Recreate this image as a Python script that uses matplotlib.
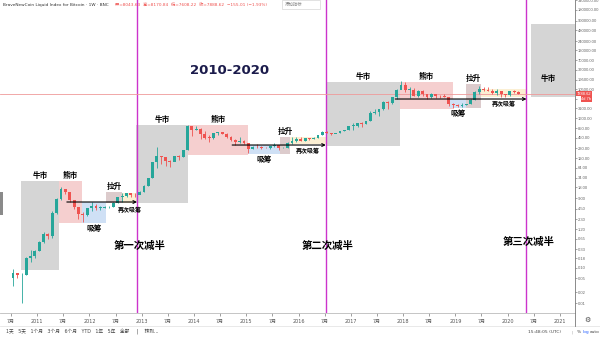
import numpy as np
import pandas as pd
import matplotlib
matplotlib.use('Agg')
import matplotlib.pyplot as plt
import matplotlib.dates as mdates
import matplotlib.transforms as mtrans
from matplotlib.patches import Rectangle
from matplotlib.ticker import FixedLocator, NullLocator

plt.rcParams['font.family'] = ['DejaVu Sans', 'Noto Sans CJK SC']

# monthly candles, Jul 2010 - Mar 2020
months = pd.date_range('2010-07-01', '2020-03-01', freq='MS')
first_open = 0.05
close = [0.07, 0.06, 0.062, 0.19, 0.21, 0.30,
         0.52, 0.86, 0.78, 3.5, 8.5, 16.1, 13.4, 8.2, 5.1, 3.2, 3.0, 4.7,
         5.5, 4.9, 4.9, 5.0, 5.2, 6.7, 9.4, 10.2, 12.4, 11.2, 10.8, 13.5,
         20.4, 33.4, 93, 139, 129, 97, 95, 135, 133, 198, 1000, 740,
         800, 570, 450, 445, 630, 640, 585, 480, 385, 340, 375, 320,
         218, 255, 244, 236, 230, 263, 284, 230, 236, 312, 377, 430,
         370, 437, 416, 448, 531, 640, 624, 573, 608, 700, 745, 963,
         970, 1190, 1080, 1350, 2300, 2480, 2875, 4700, 4340, 6470, 9950, 13800,
         10200, 10300, 6900, 9200, 7500, 6400, 7700, 7000, 6600, 6300, 4000, 3700,
         3450, 3800, 4100, 5300, 8550, 10800, 10100, 9600, 8300, 9150, 7550, 7200,
         9350, 8600, 7888.62]
high = [0.09, 0.07, 0.07, 0.20, 0.32, 0.32,
        0.55, 1.0, 0.95, 3.8, 9.0, 18.5, 16.5, 13.5, 8.2, 5.2, 3.6, 4.8,
        6.8, 6.3, 5.4, 5.4, 5.3, 6.8, 9.7, 12.5, 12.9, 12.9, 12.8, 13.9,
        21, 34, 95, 245, 135, 130, 110, 140, 145, 210, 1030, 950,
        950, 850, 700, 540, 630, 670, 650, 600, 500, 410, 460, 385,
        320, 265, 300, 260, 247, 268, 318, 285, 245, 335, 470, 465,
        460, 440, 440, 470, 550, 700, 690, 630, 615, 715, 755, 980,
        1150, 1200, 1290, 1350, 2500, 2900, 2920, 4750, 4950, 6200, 11000, 18000,
        16500, 11800, 11700, 9800, 10000, 7800, 8500, 7700, 7400, 7500, 6500, 4200,
        4100, 4200, 4100, 5600, 9100, 12800, 12500, 12000, 10900, 10500, 9500, 7750,
        9550, 10300, 9150]
low = [0.03, 0.05, 0.01, 0.06, 0.14, 0.18,
       0.29, 0.50, 0.62, 0.70, 3.2, 8.0, 12.0, 7.0, 4.5, 2.3, 1.9, 2.8,
       4.0, 4.3, 4.3, 4.7, 4.9, 5.2, 6.5, 7.2, 9.8, 10.0, 9.8, 12.3,
       13.3, 19.5, 33, 65, 80, 72, 68, 100, 110, 130, 200, 520,
       750, 430, 430, 340, 425, 530, 565, 440, 360, 275, 325, 310,
       170, 213, 240, 218, 230, 222, 255, 199, 228, 235, 310, 350,
       360, 370, 400, 415, 440, 530, 600, 535, 600, 610, 690, 740,
       750, 920, 900, 1080, 1350, 2100, 1850, 2700, 3000, 4150, 5500, 10800,
       9000, 6000, 6600, 6500, 7000, 5750, 6100, 5900, 6100, 6200, 3500, 3150,
       3350, 3400, 3700, 4100, 5300, 7500, 9100, 9350, 7750, 7300, 6500, 6500,
       6900, 8450, 7608]

# phase boxes: label, start, end, low, high, kind, label position
zones = [
    ('牛市', '2010-09-09', '2011-06-03', 0.085, 27, 'bull', 'above'),
    ('熊市', '2011-06-03', '2011-11-10', 1.8, 27, 'bear', 'above'),
    ('吸筹', '2011-11-10', '2012-04-27', 1.8, 7.0, 'acc', 'below'),
    ('拉升', '2012-04-27', '2012-08-18', 6.6, 13.4, 'pump', 'above'),
    ('再次吸筹', '2012-08-18', '2012-11-28', 6.6, 12.6, 'reacc', 'below2'),
    ('牛市', '2012-11-21', '2013-11-21', 6.6, 1033, 'bull', 'above'),
    ('熊市', '2013-11-21', '2015-01-11', 148, 1033, 'bear', 'above'),
    ('吸筹', '2015-01-11', '2015-08-25', 157, 282, 'acc', 'below'),
    ('拉升', '2015-08-25', '2015-11-03', 157, 474, 'pump', 'above'),
    ('再次吸筹', '2015-11-03', '2016-07-09', 301, 474, 'reacc', 'below2'),
    ('牛市', '2016-07-16', '2017-12-09', 265, 16800, 'bull', 'above'),
    ('熊市', '2017-12-09', '2018-12-13', 2915, 16800, 'bear', 'above'),
    ('吸筹', '2018-11-17', '2019-03-21', 3112, 5575, 'acc', 'below'),
    ('拉升', '2019-03-14', '2019-06-28', 3112, 14760, 'pump', 'above'),
    ('再次吸筹', '2019-06-28', '2020-05-11', 6350, 10670, 'reacc', 'below2'),
    ('牛市', '2020-06-14', '2021-05-01', 6350, 723000, 'bull', 'inside'),
]
arrows = [('2011-07-27', '2012-11-28', 7.0),
          ('2014-09-24', '2016-07-09', 282),
          ('2017-11-06', '2020-05-11', 5575)]
halvings = ['2012-11-28', '2016-07-09', '2020-05-11']
halving_labels = ['第一次减半', '第二次减半', '第三次减半']
halving_label_price = [0.40, 0.40, 0.52]
last_price = 7888.62

ytick_vals = [3400000, 1800000, 900000, 480000, 240000, 130000, 70000, 37000,
              19500, 10500, 5600, 3100, 1600, 850, 450, 230, 120, 64, 34, 18,
              9, 4.5, 2.3, 1.2, 0.65, 0.33, 0.18, 0.10, 0.05, 0.02, 0.01]

zone_colors = {'bull': '#d5d5d5', 'bear': '#f5cfcf', 'acc': '#cfe0f5',
               'pump': '#dccbcc', 'reacc': '#fbefd3'}
up_col, down_col = '#26a69a', '#ef5350'

fig = plt.figure(figsize=(6, 3.37), dpi=100)
ax = fig.add_axes([0, 1 - 313 / 337, 575 / 600, 313 / 337])
ax.set_yscale('log')
ax.set_ylim(0.00523, 3.43e6)
ax.set_xlim(mdates.date2num(pd.Timestamp('2010-04-16')),
            mdates.date2num(pd.Timestamp('2021-04-15')))

# boxes
for lab, s, e, lo, hi, kind, pos in zones:
    x0 = mdates.date2num(pd.Timestamp(s))
    x1 = mdates.date2num(pd.Timestamp(e))
    ax.add_patch(Rectangle((x0, lo), x1 - x0, hi - lo, facecolor=zone_colors[kind],
                           edgecolor='none', zorder=1))
    xc = (x0 + x1) / 2
    if pos == 'above':
        ax.annotate(lab, (xc, hi), xytext=(0, 0.5), textcoords='offset points',
                    ha='center', va='bottom', fontsize=5.5, fontweight='bold', zorder=5)
    elif pos == 'below':
        ax.annotate(lab, (xc, lo), xytext=(0, -1), textcoords='offset points',
                    ha='center', va='top', fontsize=5.5, fontweight='bold', zorder=5)
    elif pos == 'below2':
        ax.annotate(lab, (xc, lo), xytext=(0, -3), textcoords='offset points',
                    ha='center', va='top', fontsize=4.3, fontweight='bold', zorder=5)
    else:
        ax.annotate(lab, (x0, lo), xytext=(7, 10), textcoords='offset points',
                    ha='left', va='bottom', fontsize=5.5, fontweight='bold', zorder=5)

# candles
x = mdates.date2num(months) + 15
o = np.array([first_open] + close[:-1])
c = np.array(close)
h = np.array(high)
l = np.array(low)
cols = np.where(c >= o, up_col, down_col)
ax.vlines(x, l, h, colors=cols, lw=0.6, zorder=3)
bot = np.minimum(o, c)
top = np.maximum(o, c)
top = np.maximum(top, bot * 1.04)
ax.bar(x, top - bot, bottom=bot, width=20, color=cols, zorder=3, linewidth=0)

# arrows
for s, e, p in arrows:
    ax.annotate('', xy=(mdates.date2num(pd.Timestamp(e)), p),
                xytext=(mdates.date2num(pd.Timestamp(s)), p),
                arrowprops=dict(arrowstyle='->', color='black', lw=0.8,
                                shrinkA=0, shrinkB=0, mutation_scale=5), zorder=4)

# halving lines
for d, lab, p in zip(halvings, halving_labels, halving_label_price):
    xd = mdates.date2num(pd.Timestamp(d))
    ax.axvline(xd, color='#cc33cc', lw=1.0, zorder=2)
    ax.text(xd + 15, p, lab, ha='center', va='center', fontsize=7.5,
            fontweight='bold', zorder=5)

ax.text(mdates.date2num(pd.Timestamp('2014-09-08')), 36600, '2010-2020',
        ha='center', va='center', fontsize=9.5, fontweight='bold', color='#1b1b4b')

ax.axhline(last_price, color='#ef9a9a', lw=0.6, zorder=2)

# axes styling
for sp in ['top', 'left']:
    ax.spines[sp].set_visible(False)
ax.spines['right'].set_color('#777777')
ax.spines['bottom'].set_color('#bbbbbb')
ax.spines['right'].set_linewidth(0.6)
ax.spines['bottom'].set_linewidth(0.6)
ax.yaxis.tick_right()
ax.yaxis.set_major_locator(FixedLocator(ytick_vals))
ax.yaxis.set_minor_locator(NullLocator())
# the 5600 label sits under the price tags
ax.set_yticklabels(['' if v == 5600 else '%.2f' % v for v in ytick_vals],
                   family='Liberation Sans')
ax.tick_params(axis='y', labelsize=3.0, colors='#666666', length=1.5, width=0.4, pad=0.6)

xt, xl = [], []
for yr in range(2010, 2022):
    for m in (1, 7):
        t = pd.Timestamp(year=yr, month=m, day=1)
        if pd.Timestamp('2010-05-01') < t < pd.Timestamp('2021-04-01'):
            xt.append(mdates.date2num(t))
            xl.append(str(yr) if m == 1 else '7月')
ax.set_xticks(xt)
ax.set_xticklabels(xl)
ax.tick_params(axis='x', labelsize=3.5, colors='#555555', length=2, width=0.4, pad=2)

# price tags on the axis
tr = mtrans.blended_transform_factory(ax.transAxes, ax.transData)
ax.text(1.003, last_price, '7888.62', transform=tr, fontsize=2.9, color='white',
        va='center', ha='left', clip_on=False, family='Liberation Sans',
        bbox=dict(boxstyle='square,pad=0.2', fc='#ef5350', ec='none'))
ax.text(1.011, last_price * 0.70, '4d 7h', transform=tr, fontsize=2.9, color='white',
        va='center', ha='left', clip_on=False, family='Liberation Sans',
        bbox=dict(boxstyle='square,pad=0.2', fc='#ef5350', ec='none'))

# header
fig.text(3 / 600, 1 - 5 / 337, 'BraveNewCoin Liquid Index for Bitcoin · 1W · BNC',
         fontsize=3.1, color='#333333', va='center')
fig.text(115 / 600, 1 - 5 / 337,
         '开=8043.63  高=8170.84  低=7608.22  收=7888.62  −155.01 (−1.93%)',
         fontsize=3.1, color='#ef5350', va='center')
fig.patches.append(Rectangle((282 / 600, 1 - 9 / 337), 38 / 600, 9 / 337,
                             transform=fig.transFigure, fc='white', ec='#cccccc', lw=0.4))
fig.text(285 / 600, 1 - 4.5 / 337, '添加指标', fontsize=3.2, color='#888888', va='center')

# left handle
fig.patches.append(Rectangle((0, 1 - 215 / 337), 3 / 600, 23 / 337,
                             transform=fig.transFigure, fc='#8a8a8a', ec='none'))

# bottom toolbar
fig.add_artist(plt.Line2D([0, 1], [1 - 326 / 337] * 2, color='#e0e0e0', lw=0.5))
fig.add_artist(plt.Line2D([575 / 600] * 2, [1 - 326 / 337, 1 - 313 / 337],
                          color='#777777', lw=0.6))
fig.text(587 / 600, 1 - 320 / 337, '⚙', fontsize=5, color='#444444', ha='center', va='center')
fig.text(6 / 600, 1 - 332 / 337,
         '1天   5天   1个月   3个月   6个月   YTD   1年   5年   全部     |    转到...',
         fontsize=3.4, color='#444444', va='center')
fig.text(528 / 600, 1 - 332 / 337, '15:48:05 (UTC)', fontsize=3.2, color='#444444', va='center')
fig.text(571 / 600, 1 - 332 / 337, '|', fontsize=3.2, color='#aaaaaa', va='center')
fig.text(577 / 600, 1 - 332 / 337, '%', fontsize=3.2, color='#444444', va='center')
fig.text(583 / 600, 1 - 332 / 337, 'log', fontsize=3.2, color='#2962ff', va='center')
fig.text(590 / 600, 1 - 332 / 337, 'auto', fontsize=3.2, color='#444444', va='center')

fig.savefig('out.png', dpi=100)
